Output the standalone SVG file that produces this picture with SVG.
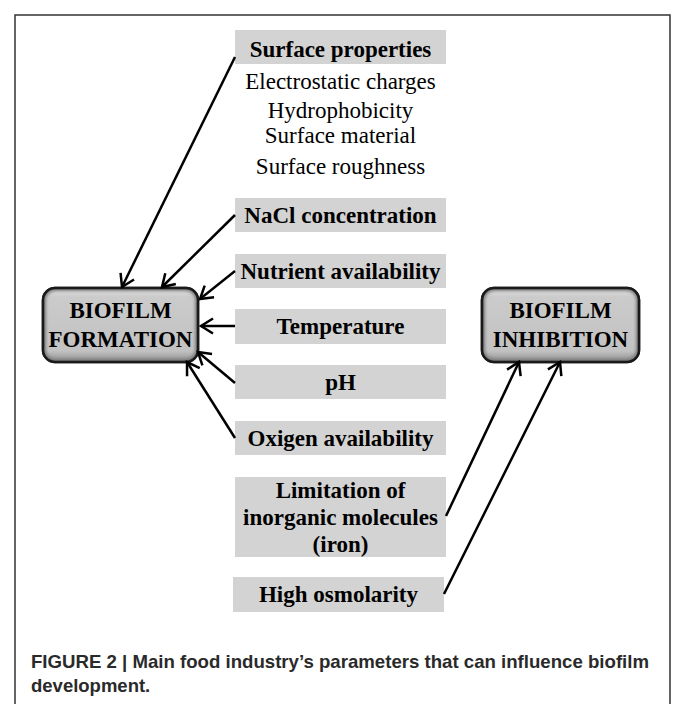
<svg xmlns="http://www.w3.org/2000/svg" width="673" height="704" viewBox="0 0 673 704">
<defs>
<style>
.box{fill:#d3d3d3;}
.bt{font-family:"Liberation Serif","Times New Roman",serif;font-weight:bold;font-size:23px;fill:#000;text-anchor:middle;}
.rt{font-family:"Liberation Serif","Times New Roman",serif;font-size:23px;fill:#000;text-anchor:middle;}
.node{stroke:#1a1a1a;stroke-width:2.5;fill:url(#g);}
.inner{fill:none;stroke:#7a7a7a;stroke-width:4;filter:url(#blur);}
.c{stroke:#000;stroke-width:2.5;fill:none;marker-end:url(#ah);}
.cap{font-family:"Liberation Sans",Arial,sans-serif;font-weight:bold;font-size:18.5px;fill:#2a2a2a;}
</style>
<linearGradient id="g" x1="0" y1="0" x2="0" y2="1">
<stop offset="0" stop-color="#e2e2e2"/>
<stop offset="0.12" stop-color="#cbcbcb"/>
<stop offset="0.85" stop-color="#c2c2c2"/>
<stop offset="1" stop-color="#8c8c8c"/>
</linearGradient>
<filter id="blur" x="-10%" y="-10%" width="120%" height="120%">
<feGaussianBlur stdDeviation="1.5"/>
</filter>
<clipPath id="cf"><rect x="43" y="288" width="155" height="74" rx="12"/></clipPath>
<clipPath id="ci"><rect x="482" y="288" width="157" height="74" rx="12"/></clipPath>
<marker id="ah" markerUnits="userSpaceOnUse" markerWidth="30" markerHeight="30" viewBox="-15 -15 30 30" refX="0" refY="0" orient="auto">
<path d="M -12 -7.5 L 0 0 L -12 7.5" fill="none" stroke="#000" stroke-width="2.5"/>
</marker>
</defs>
<rect width="673" height="704" fill="#fff"/>
<path d="M15 704 V15 H670 V704" fill="none" stroke="#333" stroke-width="1.5"/>

<g id="surface-properties">
<rect class="box" x="235" y="30" width="211" height="34"/>
<text class="bt" x="340.5" y="57">Surface properties</text>
<text class="rt" x="340.5" y="89">Electrostatic charges</text>
<text class="rt" x="340.5" y="118">Hydrophobicity</text>
<text class="rt" x="340.5" y="143">Surface material</text>
<text class="rt" x="340.5" y="174">Surface roughness</text>
</g>
<g id="nacl">
<rect class="box" x="235" y="198" width="211" height="34"/>
<text class="bt" x="340.5" y="223">NaCl concentration</text>
</g>
<g id="nutrient">
<rect class="box" x="235" y="254" width="211" height="34"/>
<text class="bt" x="340.5" y="279">Nutrient availability</text>
</g>
<g id="temperature">
<rect class="box" x="235" y="309" width="211" height="35"/>
<text class="bt" x="340.5" y="334">Temperature</text>
</g>
<g id="ph">
<rect class="box" x="235" y="365" width="211" height="34"/>
<text class="bt" x="340.5" y="390">pH</text>
</g>
<g id="oxigen">
<rect class="box" x="235" y="421" width="211" height="34"/>
<text class="bt" x="340.5" y="446">Oxigen availability</text>
</g>
<g id="limitation">
<rect class="box" x="235" y="477" width="211" height="80"/>
<text class="bt" x="340.5" y="498">Limitation of</text>
<text class="bt" x="340.5" y="525">inorganic molecules</text>
<text class="bt" x="340.5" y="552">(iron)</text>
</g>
<g id="osmolarity">
<rect class="box" x="233" y="577" width="211" height="35"/>
<text class="bt" x="338.5" y="602">High osmolarity</text>
</g>
<g id="biofilm-formation">
<rect class="node" x="43" y="288" width="155" height="74" rx="12"/>
<rect class="inner" x="44" y="289" width="153" height="72" rx="11" clip-path="url(#cf)"/>
<rect x="43" y="288" width="155" height="74" rx="12" fill="none" stroke="#1a1a1a" stroke-width="2.5"/>
<text class="bt" x="120.5" y="318">BIOFILM</text>
<text class="bt" x="120.5" y="347">FORMATION</text>
</g>
<g id="biofilm-inhibition">
<rect class="node" x="482" y="288" width="157" height="74" rx="12"/>
<rect class="inner" x="483" y="289" width="155" height="72" rx="11" clip-path="url(#ci)"/>
<rect x="482" y="288" width="157" height="74" rx="12" fill="none" stroke="#1a1a1a" stroke-width="2.5"/>
<text class="bt" x="560.5" y="318">BIOFILM</text>
<text class="bt" x="560.5" y="347">INHIBITION</text>
</g>

<g id="connectors">
<line class="c" x1="235" y1="57" x2="122" y2="287"/>
<line class="c" x1="235" y1="215" x2="162" y2="287"/>
<line class="c" x1="235" y1="271" x2="200" y2="299"/>
<line class="c" x1="235" y1="326" x2="201" y2="326"/>
<line class="c" x1="235" y1="383" x2="198" y2="352"/>
<line class="c" x1="235" y1="438" x2="187" y2="362"/>
<line class="c" x1="446" y1="516" x2="519" y2="362"/>
<line class="c" x1="444" y1="594" x2="560" y2="362"/>
</g>

<text class="cap" x="31" y="668" textLength="618" lengthAdjust="spacingAndGlyphs">FIGURE 2 | Main food industry’s parameters that can influence biofilm</text>
<text class="cap" x="31" y="692">development.</text>
</svg>
